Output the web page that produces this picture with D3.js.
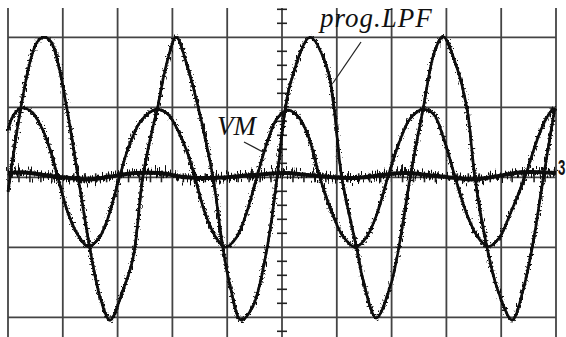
<html lang="en">
<head>
<meta charset="UTF-8">
<script src="https://d3js.org/d3.v7.min.js"></script>
<title>Scope</title>
<style>
    * { padding: 0; margin: 0; }
    body { background: #fff; }
    svg { display: block; }
</style>
</head>
<body>
<div class="scope"></div>
<script>
    const w = 566;
    const h = 337;

    // grid, in divisions
    const gridX = [0, 1, 2, 3, 4, 5, 6, 7, 8, 9, 10];
    const gridY = [-2, -1, 0, 1, 2];

    // traces: [time div, volts div]
    const lpfTrace = [
        [0.00, -0.21], [0.22, 0.93], [0.40, 1.64], [0.53, 1.93], [0.66, 2.00], [0.79, 1.93],
        [0.91, 1.64], [1.08, 0.96], [1.28, 0], [1.50, -1.04], [1.68, -1.71], [1.86, -2.04],
        [2.10, -1.61], [2.28, -1.16], [2.46, 0], [2.63, 0.67], [2.72, 0.96], [2.90, 1.64],
        [3.07, 2.00], [3.27, 1.59], [3.45, 1.07], [3.74, 0], [3.92, -1.00], [4.05, -1.54],
        [4.25, -2.04], [4.47, -1.84], [4.73, -1.00], [4.91, 0], [5.05, 0.93], [5.16, 1.36],
        [5.51, 2.00], [5.82, 1.57], [5.95, 0.99], [6.09, 0], [6.37, -1.04], [6.48, -1.47],
        [6.72, -2.01], [6.97, -1.57], [7.10, -1.14], [7.34, 0], [7.57, 0.96], [7.79, 1.81],
        [7.94, 2.01], [8.19, 1.57], [8.38, 0.96], [8.52, 0], [8.74, -1.00], [8.92, -1.57],
        [9.20, -2.04], [9.40, -1.61], [9.58, -0.94], [9.77, 0], [9.98, 0.99]
    ];

    const vmTrace = [
        [0.00, 0.67], [0.11, 0.90], [0.26, 0.99], [0.44, 0.93], [0.62, 0.70], [0.77, 0.39],
        [0.91, 0], [1.09, -0.50], [1.28, -0.83], [1.46, -0.99], [1.66, -0.87], [1.82, -0.59],
        [2.01, -0.07], [2.19, 0.41], [2.41, 0.79], [2.59, 0.93], [2.72, 0.97], [2.92, 0.90],
        [3.10, 0.67], [3.27, 0.36], [3.41, 0], [3.59, -0.50], [3.78, -0.84], [3.96, -1.00],
        [4.16, -0.87], [4.34, -0.54], [4.54, 0], [4.73, 0.50], [4.91, 0.84], [5.11, 0.96],
        [5.29, 0.87], [5.47, 0.61], [5.69, 0], [5.91, -0.50], [6.11, -0.84], [6.33, -1.00],
        [6.53, -0.87], [6.73, -0.53], [6.93, 0], [7.14, 0.50], [7.34, 0.84], [7.57, 0.97],
        [7.77, 0.90], [7.96, 0.53], [8.16, 0], [8.36, -0.50], [8.56, -0.84], [8.76, -0.99],
        [8.96, -0.87], [9.16, -0.53], [9.43, 0], [9.64, 0.50], [9.80, 0.81], [9.95, 0.99]
    ];

    const flatTrace = [
        [0.00, 0.06], [0.31, 0.07], [0.68, 0.03], [1.13, -0.01], [1.50, -0.03], [1.86, 0.01],
        [2.32, 0.06], [2.77, 0.06], [3.23, 0.00], [3.69, -0.01], [4.14, 0.01], [4.60, 0.04],
        [5.05, 0.06], [5.51, 0.03], [5.97, 0.00], [6.33, -0.01], [6.79, 0.03], [7.24, 0.06],
        [7.70, 0.03], [8.16, -0.01], [8.52, -0.03], [8.89, 0.01], [9.34, 0.07], [9.80, 0.07],
        [10.0, 0.06]
    ];

    const x = d3.scaleLinear().domain([0, 10]).range([8, 556]);
    const y = d3.scaleLinear().domain([-2, 2]).range([317.3, 37.3]);
    const plotTop = 8;

    const svg = d3.select('.scope').append('svg')
        .attr('width', w)
        .attr('height', h);

    const defs = svg.append('defs');

    // scope noise is a render effect on the stroke, not data
    function noiseFilter(id, freq, scale, seed) {
        const f = defs.append('filter')
            .attr('id', id)
            .attr('filterUnits', 'userSpaceOnUse')
            .attr('x', 0).attr('y', 0)
            .attr('width', w).attr('height', h);
        f.append('feTurbulence')
            .attr('type', 'fractalNoise')
            .attr('baseFrequency', freq)
            .attr('numOctaves', 2)
            .attr('seed', seed)
            .attr('result', 'n');
        f.append('feDisplacementMap')
            .attr('in', 'SourceGraphic')
            .attr('in2', 'n')
            .attr('scale', scale)
            .attr('xChannelSelector', 'R')
            .attr('yChannelSelector', 'G')
            .attr('result', 'd');
        const m = f.append('feMerge');
        m.append('feMergeNode').attr('in', 'd');
        m.append('feMergeNode').attr('in', 'SourceGraphic');
    }
    noiseFilter('noisy', '0.5 0.5', 8, 4);
    noiseFilter('hash', '0.8 0.04', 22, 7);

    // grid
    const grid = svg.append('g').attr('stroke', '#444').attr('stroke-width', 1.8);
    grid.selectAll('.vx')
        .data(gridX)
        .enter()
        .append('line')
        .attr('x1', (d) => x(d)).attr('x2', (d) => x(d))
        .attr('y1', plotTop).attr('y2', h);
    grid.selectAll('.hy')
        .data(gridY)
        .enter()
        .append('line')
        .attr('x1', x(0)).attr('x2', x(10))
        .attr('y1', (d) => y(d)).attr('y2', (d) => y(d));

    // center axes with minor ticks
    const minorY = d3.range(-11, 13).map((d) => d / 5).filter((d) => Math.abs(d % 1) > 0.01);
    const minorX = d3.range(0, 51).map((d) => d / 5).filter((d) => Math.abs(d % 1) > 0.01);
    const axes = svg.append('g').attr('stroke', '#222').attr('stroke-width', 1.6);
    axes.selectAll('.ty')
        .data(minorY.filter((d) => y(d) > plotTop))
        .enter()
        .append('line')
        .attr('x1', x(5) - 5).attr('x2', x(5) + 5)
        .attr('y1', (d) => y(d)).attr('y2', (d) => y(d));
    axes.selectAll('.tx')
        .data(minorX)
        .enter()
        .append('line')
        .attr('x1', (d) => x(d)).attr('x2', (d) => x(d))
        .attr('y1', y(0) - 4).attr('y2', y(0) + 5);

    const line = d3.line()
        .x((d) => x(d[0]))
        .y((d) => y(d[1]))
        .curve(d3.curveCatmullRom.alpha(0.5));

    svg.append('path')
        .datum(flatTrace)
        .attr('d', line)
        .attr('fill', 'none')
        .attr('stroke', '#111')
        .attr('stroke-width', 4)
        .attr('filter', 'url(#hash)');

    svg.append('path')
        .datum(vmTrace)
        .attr('d', line)
        .attr('fill', 'none')
        .attr('stroke', '#111')
        .attr('stroke-width', 2.6)
        .attr('filter', 'url(#noisy)');

    svg.append('path')
        .datum(lpfTrace)
        .attr('d', line)
        .attr('fill', 'none')
        .attr('stroke', '#111')
        .attr('stroke-width', 2.6)
        .attr('filter', 'url(#noisy)');

    // labels
    const lab = svg.append('g')
        .style('font-family', '"Liberation Serif", "DejaVu Serif", serif')
        .style('font-style', 'italic')
        .style('font-size', '27px')
        .attr('fill', '#111');
    lab.append('text').attr('x', 320).attr('y', 27)
        .style('letter-spacing', '1px')
        .text('prog.LPF');
    lab.append('text').attr('x', 217).attr('y', 135).text('VM');

    svg.append('line')
        .attr('x1', 361).attr('y1', 42).attr('x2', 333).attr('y2', 83)
        .attr('stroke', '#222').attr('stroke-width', 1.3);
    svg.append('line')
        .attr('x1', 244).attr('y1', 142).attr('x2', 263).attr('y2', 152)
        .attr('stroke', '#222').attr('stroke-width', 1.3);

    // channel marker, narrow so it stays inside the edge
    svg.append('text')
        .attr('transform', 'translate(558,175) scale(0.6,1)')
        .style('font-family', '"Liberation Sans", Arial, sans-serif')
        .style('font-weight', 'bold')
        .style('font-size', '22px')
        .attr('fill', '#111')
        .text('3');
</script>
</body>
</html>
